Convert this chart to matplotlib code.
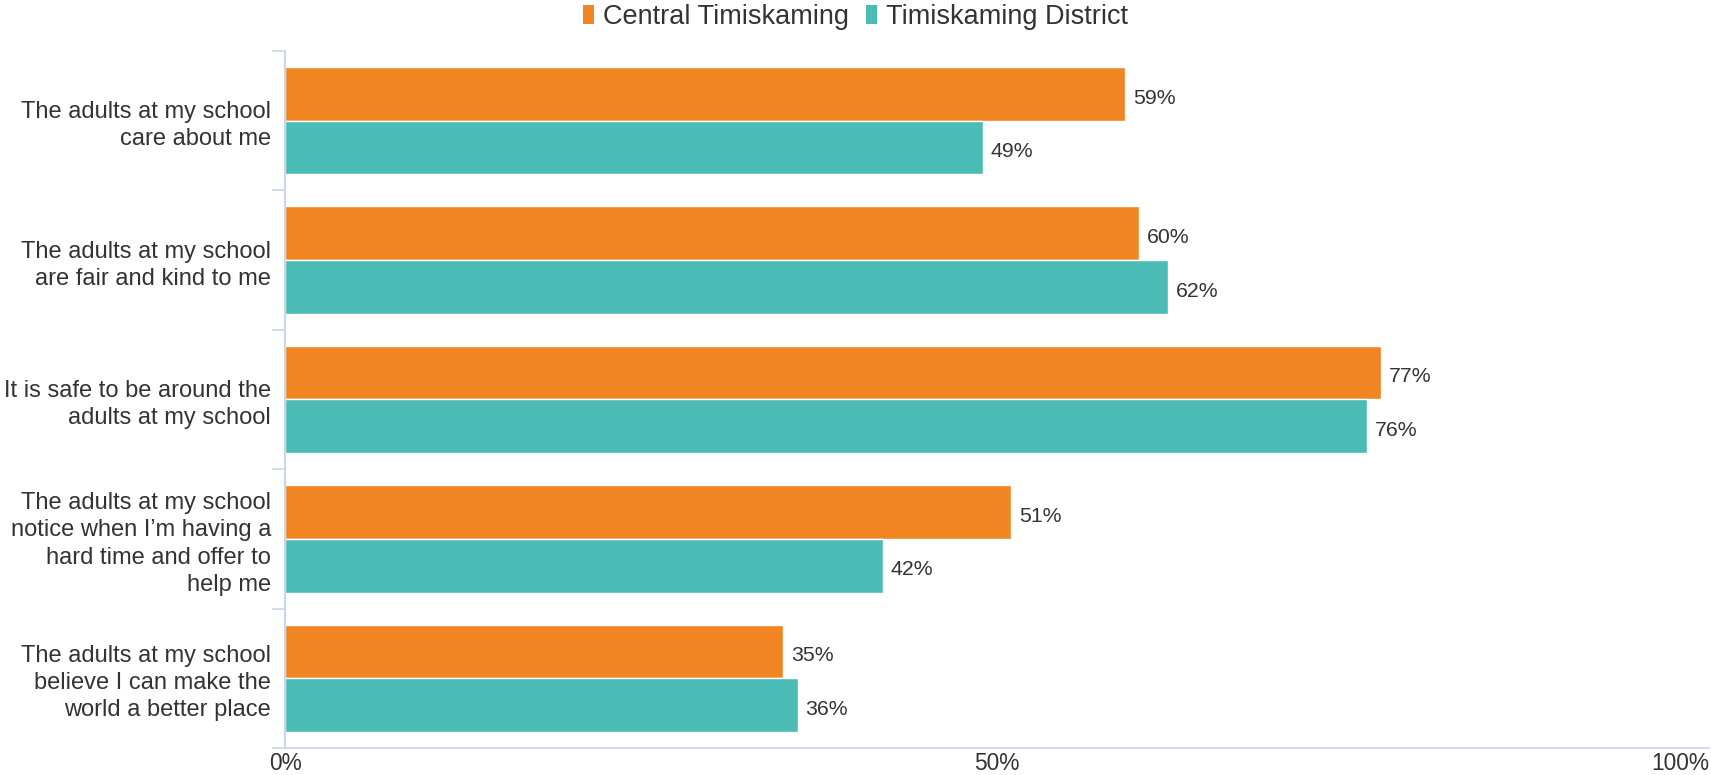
import matplotlib
matplotlib.use("Agg")
import matplotlib.pyplot as plt
import numpy as np
from matplotlib.patches import Patch

plt.rcParams['font.family'] = ['Liberation Sans', 'DejaVu Sans']

categories = [
    "The adults at my school\ncare about me",
    "The adults at my school\nare fair and kind to me",
    "It is safe to be around the\nadults at my school",
    "The adults at my school\nnotice when I\u2019m having a\nhard time and offer to\nhelp me",
    "The adults at my school\nbelieve I can make the\nworld a better place",
]
series_names = ["Central Timiskaming", "Timiskaming District"]
central = [59, 60, 77, 51, 35]
district = [49, 62, 76, 42, 36]
xticks = [0, 50, 100]
xticklabels = ["0%", "50%", "100%"]

colors = ["#F08522", "#4BBBB5"]
text_color = "#333333"
axis_color = "#CCD6EB"

W, H = 1711, 775
fig = plt.figure(figsize=(W / 100, H / 100), dpi=100)
ax = fig.add_axes([285 / W, 1 - 748 / H, (1709 - 285) / W, (748 - 51) / H])

n = len(categories)
y = np.arange(n)
bh = 0.385
ax.barh(y - bh / 2, central, height=bh, color=colors[0], edgecolor="white", linewidth=1.0)
ax.barh(y + bh / 2, district, height=bh, color=colors[1], edgecolor="white", linewidth=1.0)

for i in range(n):
    ax.annotate(f"{central[i]}%", (central[i], y[i] - bh / 2), xytext=(5.5, -3),
                textcoords="offset points", va="center", ha="left",
                fontsize=15.3, color=text_color)
    ax.annotate(f"{district[i]}%", (district[i], y[i] + bh / 2), xytext=(5.5, -3),
                textcoords="offset points", va="center", ha="left",
                fontsize=15.3, color=text_color)

ax.set_xlim(0, 100)
ax.set_ylim(n - 0.5, -0.5)

ax.set_yticks(y)
ax.set_yticklabels(categories, fontsize=17, color=text_color, linespacing=1.3)
ax.tick_params(axis="y", which="major", length=0, pad=10)
ax.set_yticks(np.arange(-0.5, n, 1.0), minor=True)
ax.tick_params(axis="y", which="minor", length=9.5, width=1.2, color=axis_color)

ax.set_xticks(xticks)
ax.set_xticklabels(xticklabels, fontsize=16.4, color=text_color)
ax.tick_params(axis="x", length=0, pad=3)
lbls = ax.get_xticklabels()
lbls[-1].set_horizontalalignment("right")
lbls[-1].set_x(100)

for s in ["top", "right"]:
    ax.spines[s].set_visible(False)
ax.spines["left"].set_color(axis_color)
ax.spines["left"].set_linewidth(1.5)
ax.spines["bottom"].set_color(axis_color)
ax.spines["bottom"].set_linewidth(1.2)

handles = [Patch(facecolor=c, edgecolor="none") for c in colors]
fig.legend(handles, series_names, loc="center", bbox_to_anchor=(0.5, 1 - 17 / H),
           ncol=2, frameon=False, fontsize=19.5, handlelength=0.42, handleheight=0.74,
           handletextpad=0.33, columnspacing=0.63, labelcolor=text_color,
           borderpad=0, borderaxespad=0)

fig.savefig("out.png", dpi=100)
